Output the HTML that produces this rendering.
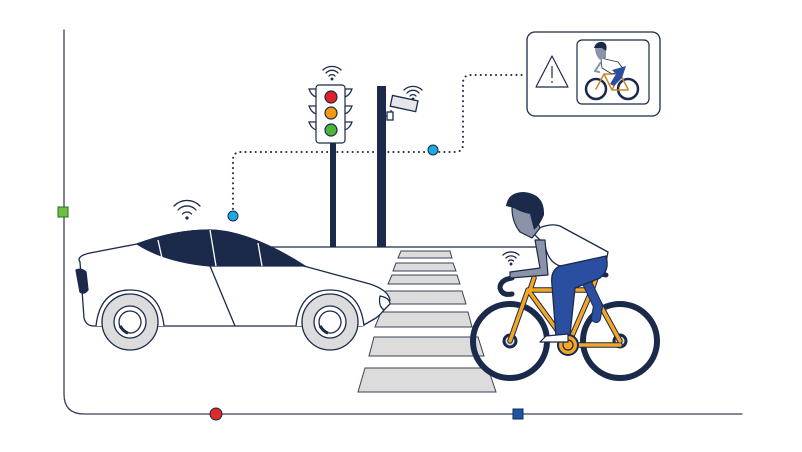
<!DOCTYPE html>
<html><head><style>html,body{margin:0;padding:0;background:#fff}svg{display:block}</style></head>
<body>
<svg width="802" height="452" viewBox="0 0 802 452" xmlns="http://www.w3.org/2000/svg">
<g fill="none" stroke="#1b2a4a" stroke-linecap="round" stroke-linejoin="round">
<path d="M64 30 V394 Q64 414 84 414 H742" stroke="#3a4256" stroke-width="1.3"/>
<line x1="270" y1="247" x2="545" y2="247" stroke-width="1.3"/>
<path d="M233 214 V160 Q233 152 241 152 H455 Q463 152 463 144 V83 Q463 75 471 75 H526" stroke-width="2" stroke-dasharray="0.1 5"/>
</g>
<rect x="58" y="207" width="10" height="10" fill="#6cbf45" stroke="#2f6a20"/>
<circle cx="216" cy="414" r="6" fill="#e02a2a" stroke="#1b2a4a"/>
<rect x="513" y="409" width="10" height="10" fill="#1a55a8" stroke="#1b2a4a"/>
<circle cx="233" cy="216" r="5" fill="#1aa9e0" stroke="#1b2a4a"/>
<circle cx="433" cy="150" r="5" fill="#1aa9e0" stroke="#1b2a4a"/>

<rect x="330" y="140" width="6" height="107" fill="#1b2a4a"/>
<rect x="377" y="86" width="9" height="161" fill="#1b2a4a"/>
<g stroke="#1b2a4a" stroke-width="1.2" fill="#fff">
<path d="M316 89 h-7 q2 6 7 8z M316 106 h-7 q2 6 7 8z M316 122 h-7 q2 6 7 8z M345 89 h7 q-2 6 -7 8z M345 106 h7 q-2 6 -7 8z M345 122 h7 q-2 6 -7 8z"/>
<rect x="316" y="85" width="29" height="58" rx="3"/>
<circle cx="331" cy="97" r="6" fill="#e32025"/>
<circle cx="331" cy="113" r="6" fill="#f59a0e"/>
<circle cx="331" cy="130" r="6" fill="#4eb53b"/>
</g>
<g stroke="#1b2a4a" stroke-width="1.3" fill="#fff">
<path d="M386 116 h5 v-6"/>
<rect x="391" y="98" width="26" height="11" transform="rotate(12 404 104)" fill="#e6e6ea"/>
<rect x="387" y="112" width="6" height="8"/>
</g>
<g fill="none" stroke="#1b2a4a" stroke-width="1.3" stroke-linecap="round">
<g transform="translate(332,77)"><path d="M-9 -7 a13 13 0 0 1 18 0 M-6 -4 a8 8 0 0 1 12 0 M-3 -1 a4 4 0 0 1 6 0"/><circle cx="0" cy="2" r="0.8" fill="#1b2a4a"/></g>
<g transform="translate(413,97)"><path d="M-9 -7 a13 13 0 0 1 18 0 M-6 -4 a8 8 0 0 1 12 0 M-3 -1 a4 4 0 0 1 6 0"/><circle cx="0" cy="2" r="0.8" fill="#1b2a4a"/></g>
<g transform="translate(187,216)"><path d="M-13 -10 a18 18 0 0 1 26 0 M-9 -6 a12 12 0 0 1 18 0 M-4.5 -2 a6 6 0 0 1 9 0"/><circle cx="0" cy="2" r="1" fill="#1b2a4a"/></g>
<g transform="translate(511,262)"><path d="M-8 -7 a12 12 0 0 1 16 0 M-5 -4 a7 7 0 0 1 10 0 M-2.5 -1 a3.5 3.5 0 0 1 5 0"/><circle cx="0" cy="2" r="0.8" fill="#1b2a4a"/></g>
</g>

<rect x="527" y="32" width="133" height="84" rx="8" fill="#fff" stroke="#1b2a4a" stroke-width="1.3"/>
<rect x="577" y="40" width="72" height="64" rx="5" fill="#fff" stroke="#1b2a4a" stroke-width="1.2"/>
<path d="M552 56 L536 87 H568 Z" fill="#fff" stroke="#1b2a4a" stroke-width="1.2" stroke-linejoin="round"/>
<line x1="552" y1="66" x2="552" y2="78" stroke="#1b2a4a" stroke-width="1.2"/>
<circle cx="552" cy="82" r="0.9" fill="#1b2a4a"/>
<g stroke-linecap="round" stroke-linejoin="round">
<circle cx="596" cy="89" r="10" fill="none" stroke="#1b2a4a" stroke-width="2.5"/>
<circle cx="628" cy="89" r="10" fill="none" stroke="#1b2a4a" stroke-width="2.5"/>
<path d="M596 89 L604 74 H620 L628 89 M604 74 L612 90 L620 74 M612 90 H628" fill="none" stroke="#c8862a" stroke-width="1.5"/>
<path d="M601 58 L618 62 L624 70 L612 74 L602 68 Z" fill="#fff" stroke="#1b2a4a" stroke-width="0.8"/>
<path d="M612 70 L626 66 L622 78 L614 86 L610 84 L616 74 Z" fill="#2a4fa0"/>
<path d="M595 48 Q600 42 606 48 L606 58 L600 60 Q595 55 595 48 Z" fill="#8a93a8"/>
<path d="M594 48 Q596 41 603 42 Q608 44 606 51 L602 48 Z" fill="#1b2a4a"/>
<path d="M601 62 L595 71 L599 72" fill="none" stroke="#8a93a8" stroke-width="2"/>
</g>

<g fill="#dcdcdc" stroke="#3a4256" stroke-width="1">
<path d="M401 251 H450 L452 258 H398 Z"/>
<path d="M396 263 H453 L456 271 H393 Z"/>
<path d="M392 275 H457 L460 284 H388 Z"/>
<path d="M386 291 H462 L466 304 H381 Z"/>
<path d="M381 312 H468 L472 327 H375 Z"/>
<path d="M374 337 H478 L484 356 H369 Z"/>
<path d="M365 368 H488 L496 392 H358 Z"/>
</g>

<g stroke="#1b2a4a" stroke-width="1.3" stroke-linejoin="round">
<path d="M80 262 Q76 256 90 253 L137 244 Q175 230 210 230 Q250 231 300 265 L370 284 Q388 290 390 300 Q386 310 376 318 L362 326 H94 Q86 326 84 318 Z" fill="#fff"/>
<path d="M137 244 Q175 230 210 230 Q250 231 305 266 H210 Q165 262 137 244 Z" fill="#1b2a4a"/>
<path d="M158 240 L162 258 M210 230 L216 266 M258 243 L262 266" stroke="#fff" stroke-width="1.3"/>
<path d="M210 266 L235 326" fill="none"/>
<path d="M76 270 Q82 268 86 272 L88 290 Q84 295 80 292 Z" fill="#1b2a4a"/>
<path d="M380 296 Q390 298 390 304 L384 310 Q378 306 380 296 Z" fill="#fff"/>
<path d="M96 326 Q100 290 130 290 Q160 290 164 326 M296 326 Q300 290 330 290 Q360 290 364 326" fill="#fff"/>
<circle cx="130" cy="322" r="28" fill="#dcdcdc"/>
<circle cx="130" cy="322" r="16" fill="#fff"/>
<circle cx="130" cy="322" r="11" fill="#fff"/>
<circle cx="330" cy="322" r="28" fill="#dcdcdc"/>
<circle cx="330" cy="322" r="16" fill="#fff"/>
<circle cx="330" cy="322" r="11" fill="#fff"/>
<path d="M120 326 Q124 332 128 333" stroke-width="3"/>
<path d="M320 326 Q324 332 328 333" stroke-width="3"/>
</g>

<g stroke-linecap="round" stroke-linejoin="round">
<circle cx="510" cy="341" r="37" fill="none" stroke="#1b2a4a" stroke-width="6"/>
<circle cx="620" cy="341" r="37" fill="none" stroke="#1b2a4a" stroke-width="6"/>
<circle cx="510" cy="341" r="6" fill="#dcdcdc" stroke="#1b2a4a" stroke-width="3"/>
<circle cx="620" cy="341" r="6" fill="#dcdcdc" stroke="#1b2a4a" stroke-width="3"/>
<g fill="none" stroke="#1b2a4a" stroke-width="5.5">
<path d="M510 341 L528 290 H592 L620 341 M528 290 L568 345 L592 290 M568 345 H620 M530 290 L534 278 M592 290 L596 278"/>
</g>
<g fill="none" stroke="#f5a623" stroke-width="3.5">
<path d="M510 341 L528 290 H592 L620 341 M528 290 L568 345 L592 290 M568 345 H620 M530 290 L534 278 M592 290 L596 278"/>
</g>
<path d="M583 278 Q595 272 606 275" stroke="#1b2a4a" stroke-width="5" fill="none"/>
<path d="M512 278 Q500 280 500 288 Q502 296 512 294" stroke="#1b2a4a" stroke-width="5" fill="none"/>
<circle cx="568" cy="345" r="10" fill="#f5a623" stroke="#1b2a4a" stroke-width="2"/>
<circle cx="568" cy="345" r="5" fill="#f5a623" stroke="#1b2a4a" stroke-width="1.2"/>
<path d="M580 268 L598 306 L596 318" fill="none" stroke="#1b2a4a" stroke-width="10"/>
<path d="M580 268 L598 306 L596 318" fill="none" stroke="#2a4fa0" stroke-width="8"/>
<path d="M532 232 Q548 222 560 226 L608 252 L606 262 L560 266 Q548 262 545 245 Z" fill="#fff" stroke="#1b2a4a" stroke-width="1.3"/>
<path d="M560 266 L606 256 Q610 270 600 278 L575 288 L570 335 L556 337 L552 285 Q550 270 560 266 Z" fill="#2a4fa0" stroke="#1b2a4a" stroke-width="1.3"/>
<path d="M546 336 L568 334 L568 342 L540 342 Z" fill="#fff" stroke="#1b2a4a" stroke-width="1.2"/>
<path d="M535 240 L540 268 L510 272 L510 278 L548 275 L545 240 Z" fill="#8a93a8" stroke="#1b2a4a" stroke-width="1.2"/>
<path d="M512 208 Q520 200 532 208 L540 228 L532 238 L520 232 Q512 222 512 208 Z" fill="#8a93a8" stroke="#1b2a4a" stroke-width="1.2"/>
<path d="M506 206 Q508 192 524 192 Q545 194 544 215 Q540 225 534 230 L530 214 Q520 212 514 208 Z" fill="#1b2a4a"/>
</g>
</svg>
</body></html>
